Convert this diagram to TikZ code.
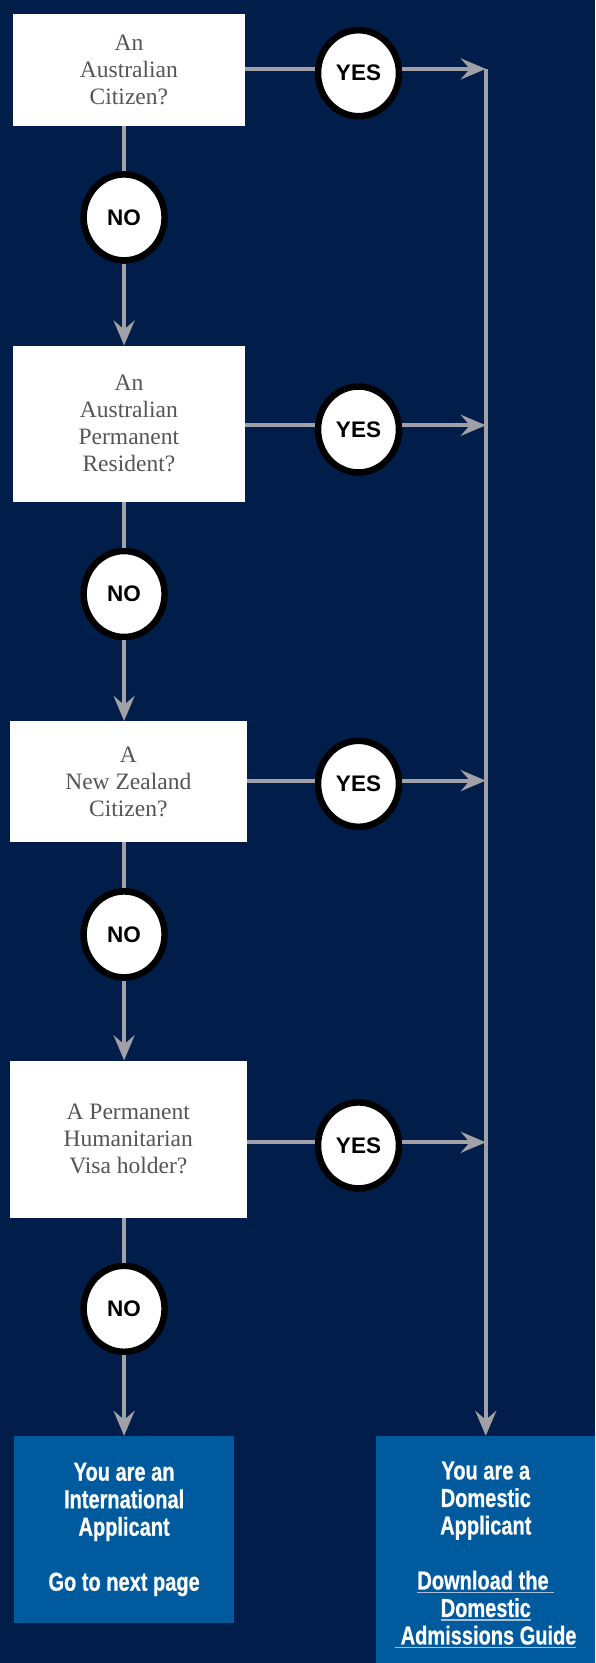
\documentclass[tikz,border=0pt]{standalone}
\usepackage{fontspec}
\usetikzlibrary{arrows.meta,shapes.geometric}
\newfontfamily\badgefont{Liberation Sans}
\newfontfamily\askfont{Liberation Serif}
\newfontfamily\signfont[FakeStretch=0.77,FakeBold=0.6]{Liberation Sans}
\definecolor{navy}{RGB}{0,30,73}
\definecolor{deepblue}{RGB}{0,90,158}
\definecolor{flowgray}{RGB}{160,160,166}
\definecolor{txtgray}{RGB}{85,85,85}
\definecolor{ulblue}{RGB}{170,190,215}
\newsavebox\guidebox
\newcommand\guideuline[1]{\sbox\guidebox{#1}\leavevmode\rlap{\textcolor{ulblue}{\rule[-4pt]{\wd\guidebox}{1.8pt}}}\usebox\guidebox}
\begin{document}
\begin{tikzpicture}[x=1pt,y=1pt,
    query/.style={fill=white,text=txtgray,align=center,inner sep=0pt,font=\askfont\fontsize{23.5}{27}\selectfont},
    badge/.style={ellipse,draw=black,line width=6.5pt,fill=white,minimum width=81pt,minimum height=86pt,inner sep=0pt,font=\badgefont\bfseries\fontsize{22.5}{24}\selectfont},
    result/.style={fill=deepblue,text=white,align=center,inner sep=0pt,font=\signfont\bfseries\fontsize{26}{27.5}\selectfont},
    flow/.style={draw=flowgray,line width=4pt},
    flowarrow/.style={-{Stealth[length=25pt,width=21pt,inset=9pt]}}]
  \useasboundingbox (0,0) rectangle (595,-1663);
  \fill[navy] (0,0) rectangle (595,-1663);
  % questions
  \node[query,minimum width=232pt,minimum height=112.5pt] (citizen) at (128.9,-70) {An\\Australian\\Citizen?};
  \node[query,minimum width=232pt,minimum height=156pt] (resident) at (128.9,-423.7) {An\\Australian\\Permanent\\Resident?};
  \node[query,minimum width=237.6pt,minimum height=121pt] (kiwi) at (128.3,-781.6) {A\\New Zealand\\Citizen?};
  \node[query,minimum width=237.6pt,minimum height=157pt] (visa) at (128.3,-1139) {A Permanent\\Humanitarian\\Visa holder?};
  % answers
  \node[badge] (no1) at (124.1,-217.4) {NO};
  \node[badge] (no2) at (124.1,-594) {NO};
  \node[badge] (no3) at (124.1,-934.4) {NO};
  \node[badge] (no4) at (124.1,-1308.8) {NO};
  \node[badge] (yes1) at (358.5,-73.2) {YES};
  \node[badge] (yes2) at (358.5,-429.5) {YES};
  \node[badge] (yes3) at (358.5,-783.8) {YES};
  \node[badge] (yes4) at (358.5,-1145.4) {YES};
  \coordinate (j1) at (485.8,-68.9);
  \coordinate (j2) at (485.8,-425.3);
  \coordinate (j3) at (485.8,-780.6);
  \coordinate (j4) at (485.8,-1142.3);
  % outcomes
  \node[result,minimum width=220.6pt,minimum height=187pt] (intl) at (124.1,-1529.5)
    {You are an\\International\\Applicant\\[27.5pt]Go to next page};
  \node[result,minimum width=219pt,minimum height=238pt] (dom) at (485.8,-1555)
    {You are a\\Domestic\\Applicant\\[27.5pt]\guideuline{Download the\ }\\\guideuline{Domestic}\\\guideuline{\ Admissions Guide}};
  % connectors
  \draw[flow] (citizen.south -| no1) -- (no1);
  \draw[flow,flowarrow] (no1) -- (resident.north -| no1);
  \draw[flow] (resident.south -| no2) -- (no2);
  \draw[flow,flowarrow] (no2) -- (kiwi.north -| no2);
  \draw[flow] (kiwi.south -| no3) -- (no3);
  \draw[flow,flowarrow] (no3) -- (visa.north -| no3);
  \draw[flow] (visa.south -| no4) -- (no4);
  \draw[flow,flowarrow] (no4) -- (intl.north -| no4);
  \draw[flow] (citizen.east |- j1) -- (yes1.west |- j1);
  \draw[flow,flowarrow] (yes1.east |- j1) -- (j1);
  \draw[flow] (resident.east |- j2) -- (yes2.west |- j2);
  \draw[flow,flowarrow] (yes2.east |- j2) -- (j2);
  \draw[flow] (kiwi.east |- j3) -- (yes3.west |- j3);
  \draw[flow,flowarrow] (yes3.east |- j3) -- (j3);
  \draw[flow] (visa.east |- j4) -- (yes4.west |- j4);
  \draw[flow,flowarrow] (yes4.east |- j4) -- (j4);
  \draw[flow,flowarrow] (j1) -- (dom.north -| j1);
\end{tikzpicture}
\end{document}
